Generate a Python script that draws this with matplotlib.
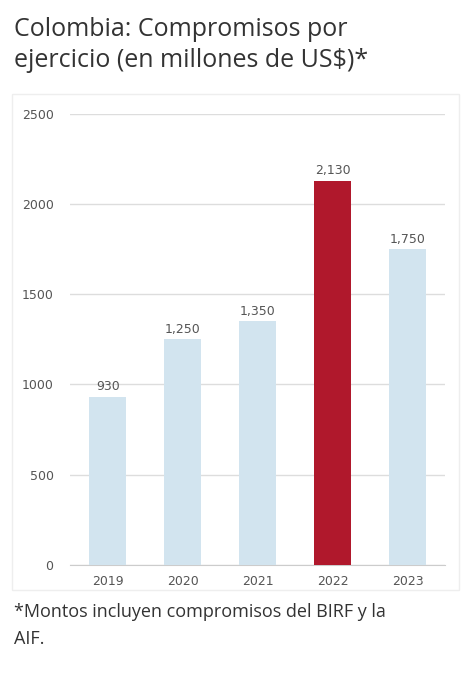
import matplotlib.pyplot as plt

years = ["2019", "2020", "2021", "2022", "2023"]
compromisos = [930, 1250, 1350, 2130, 1750]
etiquetas = ["930", "1,250", "1,350", "2,130", "1,750"]
colores = ["#d2e4ef", "#d2e4ef", "#d2e4ef", "#b0182c", "#d2e4ef"]

fig = plt.figure(figsize=(4.68, 6.74), dpi=100)
ax = fig.add_axes([0.15, 0.162, 0.801, 0.669])

x = range(len(years))
ax.bar(x, compromisos, width=0.5, color=colores, zorder=3)
for i, v in enumerate(compromisos):
    ax.text(i, v + 20, etiquetas[i], ha="center", va="bottom", fontsize=9,
            color="#555555", family="DejaVu Sans")

ax.set_xlim(-0.5, 4.5)
ax.set_ylim(0, 2500)
ax.set_yticks([0, 500, 1000, 1500, 2000, 2500])
ax.set_xticks(list(x))
ax.set_xticklabels(years)
ax.grid(axis="y", color="#dddddd", linewidth=1, zorder=0)
for s in ["top", "right", "left"]:
    ax.spines[s].set_visible(False)
ax.spines["bottom"].set_color("#cccccc")
ax.tick_params(axis="both", length=0, labelsize=9, colors="#555555")
ax.tick_params(axis="x", pad=7)
ax.tick_params(axis="y", pad=12)

# marco ligero alrededor del grafico
fig.patches.append(plt.Rectangle((0.025, 0.125), 0.955, 0.735, transform=fig.transFigure,
                                 fill=False, edgecolor="#eeeeee", linewidth=1))

fig.text(0.03, 0.975, "Colombia: Compromisos por\nejercicio (en millones de US$)*",
         ha="left", va="top", fontsize=18, color="#333333", family="Open Sans",
         linespacing=1.3)
fig.text(0.03, 0.105, "*Montos incluyen compromisos del BIRF y la\nAIF.",
         ha="left", va="top", fontsize=13, color="#333333", family="Open Sans",
         linespacing=1.65)

fig.savefig("out.png", dpi=100)
